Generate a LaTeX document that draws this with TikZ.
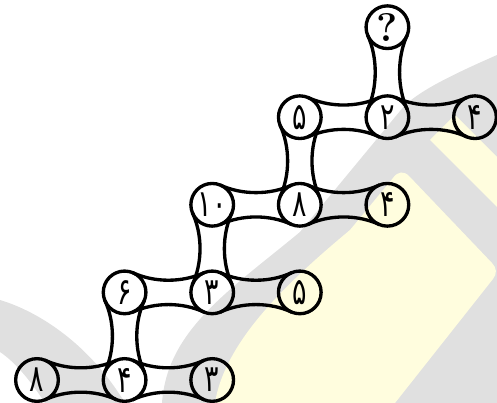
\documentclass[tikz,border=0pt]{standalone}
\usepackage{fontspec}
\newfontfamily\fadigits[Script=Arabic]{DejaVu Sans}
\usetikzlibrary{positioning}
\definecolor{wmgray}{RGB}{224,224,224}
\definecolor{wmyellow}{RGB}{255,253,222}
\newcommand{\dg}[1]{\scalebox{0.72}[1]{#1}}

\begin{document}
\begin{tikzpicture}[x=0.75pt,y=0.75pt,line width=2.5pt,node distance=65.7pt,on grid]
\tikzstyle{num}=[circle,draw,minimum size=32pt,inner sep=0pt,outer sep=0pt,
  font=\fadigits\fontsize{28}{32}\selectfont]
\tikzstyle{hlink}=[to path={
  (\tikztostart.68) .. controls +(-25:24) and +(205:24) .. (\tikztotarget.112)
  (\tikztostart.-68) .. controls +(25:24) and +(155:24) .. (\tikztotarget.-112)}]
\tikzstyle{vlink}=[to path={
  (\tikztostart.-22) .. controls +(-115:24) and +(115:24) .. (\tikztotarget.22)
  (\tikztostart.-158) .. controls +(-65:24) and +(65:24) .. (\tikztotarget.158)}]

  \useasboundingbox (0,0) rectangle (497,403);

  %--- watermark ---
  \begin{scope}[shift={(0,403)},yscale=-1]
    \fill[wmgray] (162,403) .. controls (167,330) and (230,290) .. (300,232)
      -- (405,105) .. controls (420,92) and (440,80) .. (497,55) -- (497,403) -- cycle;
    \fill[wmyellow] (215,403) .. controls (225,340) and (290,280) .. (350,230)
      -- (393,178) .. controls (398,171) and (404,171) .. (409,176)
      -- (492,263) .. controls (497,268) and (497,274) .. (493,279) -- (395,403) -- cycle;
    \fill[wmyellow] (430,140) -- (497,207) -- (497,157) -- (455,115) -- cycle;
    \fill[wmgray] (0,300) .. controls (40,312) and (90,345) .. (125,403)
      -- (45,403) .. controls (30,380) and (15,362) .. (0,352) -- cycle;
  \end{scope}

  %--- nodes ---
  \node[num] (d1) at (37,23) {\dg{۸}};
  \node[num] (d2) [right=of d1] {\dg{۴}};
  \node[num] (d3) [right=of d2] {\dg{۳}};

  \node[num] (c1) [above=of d2] {\dg{۶}};
  \node[num] (c2) [right=of c1] {\dg{۳}};
  \node[num] (c3) [right=of c2] {\dg{۵}};

  \node[num] (b1) [above=of c2] {\dg{۱۰}};
  \node[num] (b2) [right=of b1] {\dg{۸}};
  \node[num] (b3) [right=of b2] {\dg{۴}};

  \node[num] (a1) [above=of b2] {\dg{۵}};
  \node[num] (a2) [right=of a1] {\dg{۲}};
  \node[num] (a3) [right=of a2] {\dg{۴}};

  \node[num] (q) [above=67.5pt of a2] {\normalfont\fontsize{30}{34}\selectfont\bfseries ?};

  %--- links ---
  \path
    (d1) edge[hlink] (d2)
    (d2) edge[hlink] (d3)
    (c1) edge[hlink] (c2)
    (c2) edge[hlink] (c3)
    (b1) edge[hlink] (b2)
    (b2) edge[hlink] (b3)
    (a1) edge[hlink] (a2)
    (a2) edge[hlink] (a3)

    (c1) edge[vlink] (d2)
    (b1) edge[vlink] (c2)
    (a1) edge[vlink] (b2)
    (q) edge[vlink] (a2);
\end{tikzpicture}
\end{document}
